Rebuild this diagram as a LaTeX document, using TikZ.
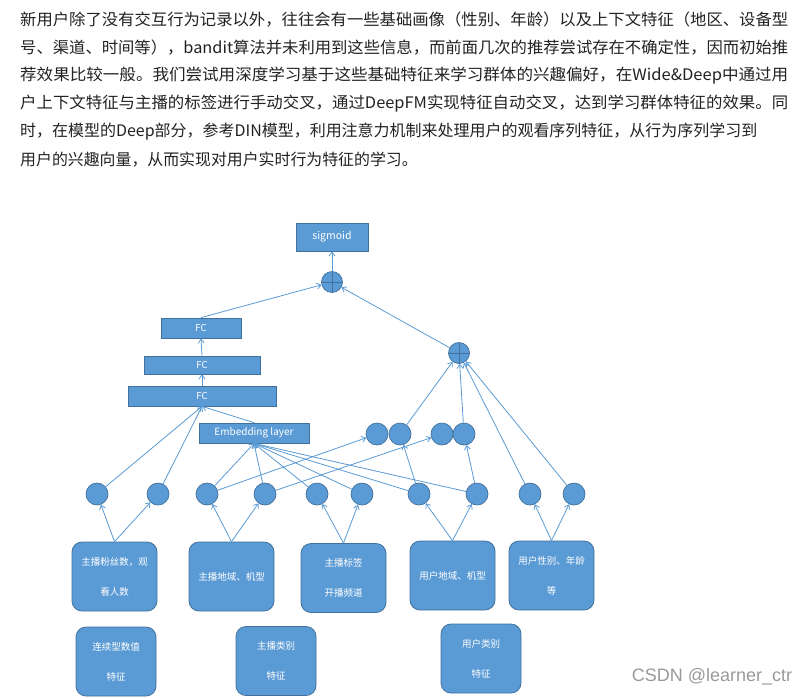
\documentclass[tikz,border=0pt]{standalone}
\usepackage{fontspec}
\usepackage{graphicx}
\setmainfont{Noto Sans CJK SC}
\newfontfamily\wmfont{Liberation Sans}
\usetikzlibrary{arrows.meta}
\definecolor{fillblue}{HTML}{5B9BD5}
\definecolor{edgeblue}{HTML}{41719C}
\definecolor{lineblue}{HTML}{5B9BD5}
\definecolor{txt}{HTML}{222222}
\definecolor{wmgray}{HTML}{9A9A9A}
\begin{document}
\begin{tikzpicture}[x=1pt,y=-1pt,
 box/.style={draw=edgeblue, fill=fillblue, line width=0.8pt, inner sep=0pt, text=white, font=\fontsize{9.5}{11}\selectfont},
 rbox/.style={box, rounded corners=10pt, minimum width=85pt, minimum height=69pt, align=center, font=\fontsize{9.5}{30}\selectfont},
 sbox/.style={rbox, minimum width=80pt},
 dot/.style={circle, draw=edgeblue, fill=fillblue, line width=0.7pt, minimum size=22pt, inner sep=0pt},
 plusdot/.style={dot, minimum size=21pt, path picture={\draw[edgeblue,line width=0.8pt] (path picture bounding box.north) -- (path picture bounding box.south) (path picture bounding box.west) -- (path picture bounding box.east);}},
 conn/.style={draw=lineblue, line width=0.8pt},
 arr/.style={conn, -{Straight Barb[length=4pt,width=6pt]}},
 para/.style={anchor=west, inner sep=0pt, text=txt, font=\fontsize{15.9}{18}\selectfont},
]
\useasboundingbox[fill=white] (0,0) rectangle (811,697);

% paragraph
\node[para] (l1) at (20,20) {\resizebox{768pt}{\height}{新用户除了没有交互行为记录以外，往往会有一些基础画像（性别、年龄）以及上下文特征（地区、设备型}};
\node[para] (l2) at (20,48) {\resizebox{768pt}{\height}{号、渠道、时间等），bandit算法并未利用到这些信息，而前面几次的推荐尝试存在不确定性，因而初始推}};
\node[para] (l3) at (20,76) {\resizebox{768pt}{\height}{荐效果比较一般。我们尝试用深度学习基于这些基础特征来学习群体的兴趣偏好，在Wide\&Deep中通过用}};
\node[para] (l4) at (20,104) {\resizebox{768pt}{\height}{户上下文特征与主播的标签进行手动交叉，通过DeepFM实现特征自动交叉，达到学习群体特征的效果。同}};
\node[para] (l5) at (20,132) {\resizebox{737pt}{\height}{时，在模型的Deep部分，参考DIN模型，利用注意力机制来处理用户的观看序列特征，从行为序列学习到}};
\node[para] (l6) at (20,160) {用户的兴趣向量，从而实现对用户实时行为特征的学习。};

% top part
\node[box, minimum width=72pt, minimum height=28pt, font=\fontsize{10.5}{12}\selectfont] (sig) at (332,237) {sigmoid};
\node[plusdot] (plusT) at (332,282) {};
\node[box, minimum width=80pt, minimum height=20pt] (fc1) at (201,328) {FC};
\node[box, minimum width=116pt, minimum height=18pt] (fc2) at (202,365) {FC};
\node[box, minimum width=148pt, minimum height=20pt] (fc3) at (202,396) {FC};
\node[box, minimum width=110pt, minimum height=20pt, font=\fontsize{10}{12}\selectfont] (emb) at (254,433) {Embedding layer};
\node[plusdot] (plusR) at (459,353) {};

% middle circles
\node[dot] (m1) at (377,434) {};
\node[dot] (m2) at (400,434) {};
\node[dot] (m3) at (442,434) {};
\node[dot] (m4) at (464,434) {};

% bottom circles
\foreach \i/\x in {1/97,2/158,3/207,4/265,5/317,6/362,7/419,8/477,9/530,10/574}
  \node[dot] (b\i) at (\x,494) {};

% feature boxes
\node[rbox] (A) at (114.5,576.5) {主播粉丝数，观\\看人数};
\node[rbox] (B) at (231.5,576.5) {主播地域、机型};
\node[rbox] (C) at (343.5,578) {主播标签\\开播频道};
\node[rbox] (D) at (452.5,575.5) {用户地域、机型};
\node[rbox] (E) at (551.5,575.5) {用户性别、年龄\\等};
\node[sbox] (F) at (116,661.5) {连续型数值\\特征};
\node[sbox] (G) at (276,661) {主播类别\\特征};
\node[sbox] (H) at (481,658.5) {用户类别\\特征};

% connectors
\draw[arr] (plusT) -- (sig);
\draw[arr] (fc1.north) -- (plusT);
\draw[arr] (plusR) -- (plusT);
\draw[arr] (fc2.north) -- (fc1.south);
\draw[arr] (fc3.north) -- (fc2.south);
\draw[arr] (emb.north) -- (fc3.south);
\draw[arr] (b1) -- (fc3.south);
\draw[arr] (b2) -- (fc3.south);
\foreach \i in {3,...,8} \draw[arr] (b\i) -- (emb.south);
\draw[arr] (b3) -- (m1);
\draw[arr] (b4) -- (m3);
\draw[arr] (b7) -- (m2);
\draw[arr] (b8) -- (m4);
\draw[arr] (m2) -- (plusR);
\draw[arr] (m4) -- (plusR);
\draw[arr] (b9) -- (plusR);
\draw[arr] (b10) -- (plusR);
\draw[arr] (A.north) -- (b1);
\draw[arr] (A.north) -- (b2);
\draw[arr] (B.north) -- (b3);
\draw[arr] (B.north) -- (b4);
\draw[arr] (C.north) -- (b5);
\draw[arr] (C.north) -- (b6);
\draw[arr] (D.north) -- (b7);
\draw[arr] (D.north) -- (b8);
\draw[arr] (E.north) -- (b9);
\draw[arr] (E.north) -- (b10);

% watermark
\node[inner sep=0pt, text=wmgray, font=\wmfont\fontsize{18}{20}\selectfont] (wm) at (712,677) {CSDN @learner\_ctr};
\end{tikzpicture}
\end{document}
